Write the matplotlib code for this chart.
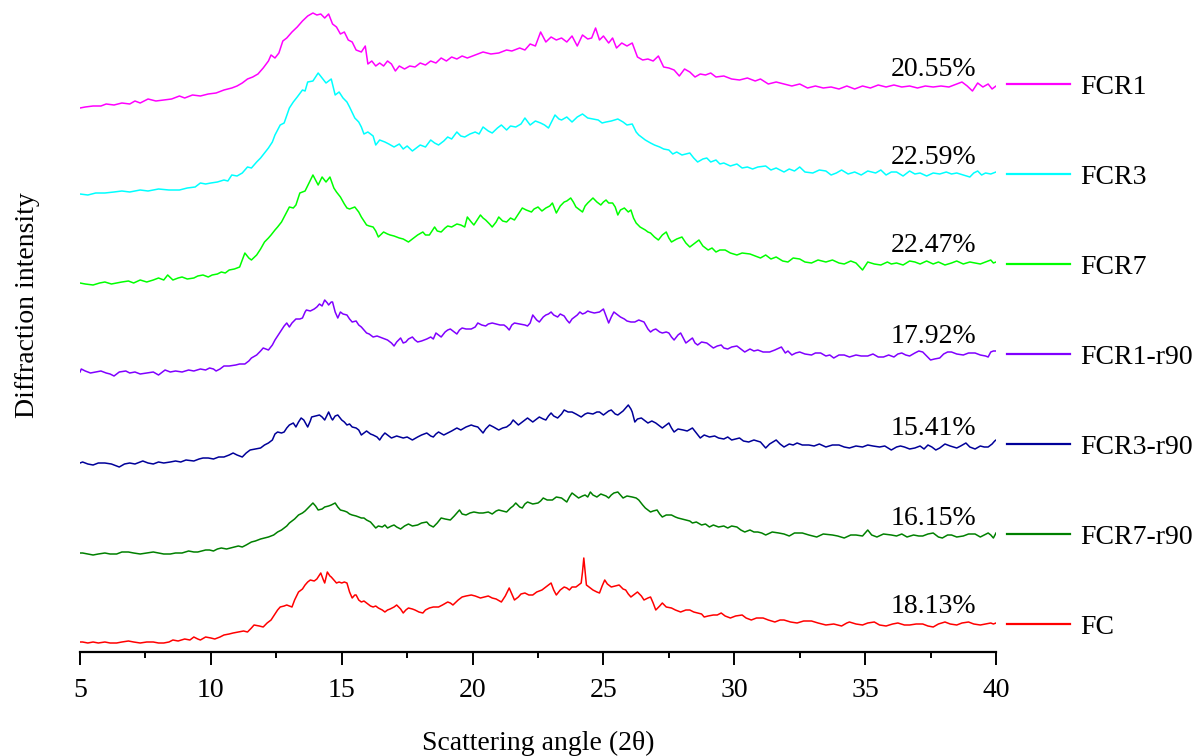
import numpy as np
import matplotlib
matplotlib.use("Agg")
import matplotlib.pyplot as plt

plt.rcParams['font.family'] = ['Liberation Serif', 'DejaVu Serif']

# XRD patterns, (2theta, intensity a.u.), offsets already included
fcr1 = [(5.0, 544), (5.2, 545), (5.5, 546), (5.8, 546), (6.0, 548), (6.3, 547), (6.6, 549), (6.9, 548),
        (7.1, 551), (7.3, 549), (7.6, 553), (7.9, 551), (8.2, 552), (8.5, 553), (8.8, 556), (9.0, 554),
        (9.3, 557), (9.6, 556), (9.9, 558), (10.2, 559), (10.5, 562), (10.8, 564), (11.0, 566), (11.2, 569),
        (11.4, 573), (11.6, 575), (11.8, 578), (12.0, 584), (12.2, 591), (12.3, 597), (12.45, 594), (12.6, 599),
        (12.75, 611), (12.9, 614), (13.1, 620), (13.3, 625), (13.5, 631), (13.7, 636), (13.9, 639), (14.05, 637),
        (14.2, 638), (14.35, 634), (14.5, 638), (14.65, 628), (14.8, 625), (14.95, 618), (15.1, 620), (15.25, 612),
        (15.4, 610), (15.55, 602), (15.75, 600), (15.9, 606), (16.0, 588), (16.15, 591), (16.3, 586), (16.45, 589),
        (16.6, 586), (16.75, 591), (16.9, 588), (17.05, 581), (17.2, 586), (17.4, 583), (17.6, 586), (17.8, 585),
        (18.0, 589), (18.2, 587), (18.4, 591), (18.6, 589), (18.8, 594), (19.0, 591), (19.2, 595), (19.4, 593),
        (19.6, 596), (19.8, 594), (20.1, 597), (20.4, 600), (20.7, 598), (21.0, 599), (21.3, 602), (21.5, 601),
        (21.8, 604), (22.0, 602), (22.2, 608), (22.4, 606), (22.6, 620), (22.8, 610), (23.0, 615), (23.2, 612),
        (23.4, 614), (23.6, 610), (23.8, 616), (24.0, 606), (24.2, 617), (24.4, 613), (24.55, 614), (24.7, 624),
        (24.85, 612), (25.0, 616), (25.2, 609), (25.35, 614), (25.5, 604), (25.7, 609), (25.9, 606), (26.1, 609),
        (26.3, 595), (26.5, 592), (26.7, 593), (26.9, 591), (27.1, 596), (27.3, 585), (27.5, 584), (27.7, 582),
        (27.9, 576), (28.1, 583), (28.3, 580), (28.5, 575), (28.7, 578), (28.9, 577), (29.1, 579), (29.3, 575),
        (29.6, 576), (29.9, 573), (30.2, 572), (30.5, 574), (30.8, 571), (31.0, 573), (31.3, 568), (31.6, 570),
        (31.9, 568), (32.2, 566), (32.5, 568), (32.8, 564), (33.1, 566), (33.4, 564), (33.7, 565), (34.0, 563),
        (34.3, 566), (34.6, 563), (34.9, 566), (35.2, 564), (35.5, 567), (35.8, 565), (36.1, 567), (36.4, 565),
        (36.7, 566), (37.0, 564), (37.3, 566), (37.6, 565), (37.9, 566), (38.2, 565), (38.5, 568), (38.7, 570),
        (38.9, 566), (39.1, 561), (39.3, 569), (39.5, 565), (39.7, 568), (39.85, 563), (40.0, 566)]

fcr3 = [(5.0, 458), (5.3, 457), (5.6, 459), (5.95, 459), (6.3, 460), (6.6, 461), (6.9, 460), (7.3, 462),
        (7.6, 461), (8.0, 463), (8.4, 462), (8.8, 462), (9.1, 464), (9.4, 465), (9.6, 469), (9.8, 468),
        (10.0, 469), (10.25, 470), (10.5, 472), (10.65, 471), (10.8, 477), (11.0, 476), (11.2, 479), (11.4, 485),
        (11.55, 484), (11.75, 490), (11.9, 494), (12.05, 499), (12.2, 504), (12.35, 510), (12.45, 517), (12.65, 527),
        (12.8, 529), (13.0, 544), (13.15, 550), (13.3, 555), (13.5, 562), (13.6, 561), (13.7, 570), (13.9, 571),
        (14.0, 575), (14.1, 579), (14.25, 574), (14.4, 569), (14.6, 573), (14.75, 557), (14.9, 560), (15.05, 554),
        (15.2, 550), (15.3, 545), (15.5, 534), (15.65, 530), (15.75, 525), (15.85, 518), (16.0, 520), (16.2, 516),
        (16.3, 507), (16.45, 512), (16.65, 510), (16.8, 508), (17.0, 505), (17.2, 508), (17.35, 503), (17.5, 506),
        (17.7, 501), (17.85, 504), (18.0, 507), (18.2, 505), (18.4, 512), (18.55, 509), (18.7, 507), (18.9, 511),
        (19.05, 515), (19.2, 513), (19.4, 520), (19.55, 516), (19.7, 515), (19.9, 518), (20.1, 520), (20.25, 518),
        (20.4, 525), (20.6, 521), (20.75, 519), (20.95, 524), (21.1, 527), (21.3, 522), (21.45, 526), (21.65, 525),
        (21.85, 528), (22.0, 534), (22.2, 527), (22.4, 531), (22.6, 529), (22.75, 527), (22.9, 524), (23.15, 537),
        (23.3, 533), (23.4, 532), (23.6, 535), (23.8, 530), (24.0, 535), (24.2, 538), (24.4, 534), (24.6, 533),
        (24.8, 532), (24.95, 529), (25.1, 530), (25.3, 531), (25.55, 533), (25.75, 530), (25.9, 527), (26.1, 528),
        (26.25, 520), (26.35, 517), (26.5, 514), (26.6, 512), (26.8, 509), (26.95, 507), (27.15, 505), (27.3, 503),
        (27.5, 502), (27.65, 498), (27.8, 500), (28.0, 497), (28.3, 499), (28.45, 494), (28.6, 490), (28.8, 493),
        (28.95, 494), (29.1, 490), (29.3, 492), (29.45, 488), (29.6, 489), (29.85, 486), (30.1, 488), (30.3, 484),
        (30.5, 485), (30.7, 483), (30.9, 485), (31.2, 486), (31.4, 482), (31.6, 484), (31.9, 480), (32.1, 483),
        (32.3, 481), (32.5, 485), (32.7, 480), (33.0, 479), (33.25, 482), (33.5, 481), (33.7, 477), (33.9, 479),
        (34.1, 482), (34.35, 478), (34.6, 480), (34.85, 477), (35.1, 481), (35.4, 479), (35.6, 482), (35.8, 477),
        (36.0, 480), (36.2, 480), (36.45, 476), (36.7, 481), (36.9, 478), (37.1, 479), (37.35, 476), (37.6, 479),
        (37.85, 478), (38.1, 480), (38.3, 478), (38.5, 479), (38.75, 477), (39.0, 475), (39.15, 479), (39.3, 481),
        (39.45, 477), (39.6, 479), (39.8, 478), (40.0, 480)]

fcr7 = [(5.0, 369), (5.2, 368), (5.5, 367), (5.75, 369), (5.95, 370), (6.2, 368), (6.4, 369), (6.6, 370),
        (6.85, 371), (7.05, 369), (7.3, 372), (7.55, 370), (7.8, 372), (8.0, 374), (8.2, 372), (8.35, 377),
        (8.55, 372), (8.75, 374), (8.9, 375), (9.1, 373), (9.35, 374), (9.5, 376), (9.7, 377), (9.9, 375),
        (10.05, 377), (10.25, 378), (10.4, 380), (10.55, 379), (10.7, 382), (10.9, 383), (11.1, 385), (11.3, 399),
        (11.45, 394), (11.55, 392), (11.75, 397), (11.9, 403), (12.05, 410), (12.2, 414), (12.3, 417), (12.45, 422),
        (12.55, 425), (12.7, 430), (12.8, 435), (12.9, 440), (13.0, 445), (13.15, 444), (13.25, 447), (13.4, 459),
        (13.5, 460), (13.6, 461), (13.75, 469), (13.9, 477), (14.0, 472), (14.1, 467), (14.25, 475), (14.4, 470),
        (14.55, 475), (14.7, 464), (14.8, 460), (14.95, 455), (15.1, 448), (15.2, 444), (15.3, 443), (15.4, 444),
        (15.5, 445), (15.65, 440), (15.75, 435), (15.95, 427), (16.05, 426), (16.2, 425), (16.3, 421), (16.4, 415),
        (16.6, 420), (16.75, 418), (16.85, 417), (17.0, 416), (17.2, 414), (17.35, 413), (17.55, 410), (17.7, 413),
        (17.9, 417), (18.1, 420), (18.2, 417), (18.35, 417), (18.55, 425), (18.65, 421), (18.8, 420), (18.95, 424),
        (19.05, 426), (19.2, 425), (19.4, 428), (19.55, 427), (19.7, 425), (19.8, 435), (19.95, 430), (20.05, 427),
        (20.2, 433), (20.3, 437), (20.4, 434), (20.5, 432), (20.65, 428), (20.75, 425), (20.9, 430), (21.0, 435),
        (21.15, 431), (21.3, 430), (21.45, 434), (21.6, 432), (21.75, 438), (21.9, 444), (22.05, 442), (22.25, 440),
        (22.35, 443), (22.5, 445), (22.65, 441), (22.8, 444), (22.95, 446), (23.05, 449), (23.2, 439), (23.35, 446),
        (23.5, 450), (23.6, 451), (23.75, 454), (23.85, 450), (23.95, 445), (24.1, 442), (24.2, 440), (24.3, 446),
        (24.4, 449), (24.6, 454), (24.75, 450), (24.9, 447), (25.0, 450), (25.1, 452), (25.2, 449), (25.35, 449),
        (25.45, 445), (25.55, 437), (25.65, 442), (25.8, 444), (25.95, 440), (26.05, 442), (26.15, 434), (26.25, 429),
        (26.4, 425), (26.6, 422), (26.7, 420), (26.8, 419), (26.95, 415), (27.1, 412), (27.25, 417), (27.4, 420),
        (27.5, 414), (27.6, 410), (27.8, 413), (28.0, 415), (28.15, 409), (28.3, 405), (28.5, 409), (28.65, 412),
        (28.8, 406), (29.0, 402), (29.15, 404), (29.3, 400), (29.45, 402), (29.65, 402), (29.85, 399), (30.1, 397),
        (30.3, 399), (30.6, 398), (30.8, 396), (31.0, 394), (31.2, 397), (31.4, 393), (31.6, 395), (31.85, 391),
        (32.05, 390), (32.25, 394), (32.5, 393), (32.7, 390), (32.95, 389), (33.2, 392), (33.5, 390), (33.75, 392),
        (34.0, 389), (34.2, 388), (34.45, 391), (34.65, 389), (34.9, 382), (35.1, 390), (35.35, 388), (35.6, 387),
        (35.85, 390), (36.0, 388), (36.2, 389), (36.45, 387), (36.7, 391), (36.9, 390), (37.1, 388), (37.35, 391),
        (37.6, 388), (37.8, 390), (38.05, 387), (38.3, 389), (38.5, 391), (38.75, 388), (39.0, 390), (39.2, 389),
        (39.4, 388), (39.6, 390), (39.8, 392), (39.9, 389), (40.0, 390)]

fcr1_r90 = [(5.0, 280), (5.05, 283), (5.2, 281), (5.4, 279), (5.6, 280), (5.8, 281), (6.0, 279), (6.15, 278),
            (6.3, 276), (6.5, 280), (6.75, 281), (6.9, 279), (7.1, 280), (7.3, 278), (7.55, 279), (7.8, 280),
            (8.0, 277), (8.15, 280), (8.25, 282), (8.45, 280), (8.65, 281), (8.9, 280), (9.15, 282), (9.35, 281),
            (9.6, 283), (9.8, 282), (9.95, 284), (10.1, 283), (10.2, 281), (10.35, 283), (10.5, 286), (10.7, 286),
            (10.95, 287), (11.1, 288), (11.3, 288), (11.45, 291), (11.55, 294), (11.75, 297), (11.9, 301), (12.0, 304),
            (12.1, 303), (12.2, 302), (12.35, 307), (12.45, 312), (12.55, 316), (12.65, 320), (12.8, 326), (12.9, 329),
            (13.0, 325), (13.1, 329), (13.25, 333), (13.4, 333), (13.5, 334), (13.6, 340), (13.65, 342), (13.8, 341),
            (13.95, 343), (14.05, 345), (14.15, 348), (14.25, 346), (14.35, 352), (14.45, 349), (14.5, 347), (14.6, 350),
            (14.65, 350), (14.75, 340), (14.85, 334), (14.95, 340), (15.05, 338), (15.2, 337), (15.3, 333), (15.4, 330),
            (15.55, 331), (15.65, 327), (15.75, 325), (15.85, 322), (15.95, 319), (16.05, 318), (16.2, 315), (16.35, 316),
            (16.55, 314), (16.65, 313), (16.75, 312), (16.9, 309), (17.0, 306), (17.1, 310), (17.25, 314), (17.35, 309),
            (17.45, 310), (17.55, 313), (17.7, 315), (17.8, 312), (17.9, 310), (18.05, 311), (18.25, 313), (18.4, 315),
            (18.5, 313), (18.6, 319), (18.7, 317), (18.8, 315), (18.95, 320), (19.05, 322), (19.15, 323), (19.3, 320),
            (19.4, 318), (19.5, 322), (19.6, 324), (19.75, 323), (19.95, 323), (20.1, 325), (20.2, 329), (20.35, 327),
            (20.5, 326), (20.6, 328), (20.75, 329), (20.9, 328), (21.05, 327), (21.2, 327), (21.3, 325), (21.4, 322),
            (21.5, 327), (21.6, 329), (21.8, 328), (22.0, 327), (22.1, 326), (22.2, 329), (22.3, 337), (22.45, 332),
            (22.55, 330), (22.7, 335), (22.8, 337), (22.9, 338), (23.0, 340), (23.1, 337), (23.25, 335), (23.35, 338),
            (23.5, 336), (23.6, 332), (23.7, 329), (23.8, 333), (23.9, 335), (24.0, 337), (24.1, 340), (24.2, 338),
            (24.3, 339), (24.4, 341), (24.5, 340), (24.65, 339), (24.85, 340), (25.0, 343), (25.1, 336), (25.2, 329),
            (25.3, 335), (25.4, 340), (25.55, 337), (25.65, 335), (25.8, 333), (25.9, 331), (26.05, 330), (26.2, 330),
            (26.35, 332), (26.55, 330), (26.7, 323), (26.8, 320), (26.9, 322), (27.0, 323), (27.15, 320), (27.25, 319),
            (27.4, 320), (27.5, 319), (27.6, 315), (27.7, 312), (27.85, 317), (27.95, 319), (28.05, 314), (28.15, 309),
            (28.3, 312), (28.4, 314), (28.5, 309), (28.6, 307), (28.75, 310), (28.95, 309), (29.1, 306), (29.2, 304),
            (29.35, 306), (29.5, 307), (29.6, 304), (29.75, 303), (29.9, 305), (30.1, 306), (30.25, 303), (30.4, 300),
            (30.6, 303), (30.75, 301), (30.9, 302), (31.1, 300), (31.35, 300), (31.55, 302), (31.8, 305), (31.95, 299),
            (32.05, 301), (32.2, 297), (32.35, 299), (32.5, 300), (32.7, 298), (32.95, 297), (33.1, 299), (33.3, 299),
            (33.5, 296), (33.65, 297), (33.8, 294), (34.0, 297), (34.2, 297), (34.4, 295), (34.65, 297), (34.85, 296),
            (35.1, 296), (35.3, 298), (35.5, 295), (35.7, 295), (35.9, 297), (36.1, 295), (36.25, 298), (36.4, 299),
            (36.55, 297), (36.7, 296), (36.9, 299), (37.05, 301), (37.2, 300), (37.35, 296), (37.5, 292), (37.65, 293),
            (37.85, 294), (38.0, 298), (38.15, 300), (38.3, 300), (38.5, 298), (38.75, 297), (38.95, 299), (39.2, 299),
            (39.4, 297), (39.6, 296), (39.7, 295), (39.8, 300), (39.9, 301), (40.0, 301)]

fcr3_r90 = [(5.0, 189), (5.1, 190), (5.3, 188), (5.5, 187), (5.7, 189), (5.95, 189), (6.2, 188), (6.5, 185),
            (6.7, 188), (6.9, 189), (7.1, 188), (7.4, 191), (7.6, 189), (7.8, 188), (8.0, 190), (8.2, 189),
            (8.45, 190), (8.65, 191), (8.85, 190), (9.05, 192), (9.35, 191), (9.55, 193), (9.7, 194), (9.9, 194),
            (10.1, 193), (10.3, 195), (10.5, 195), (10.7, 197), (10.85, 199), (11.0, 197), (11.2, 195), (11.35, 199),
            (11.5, 202), (11.7, 203), (11.9, 204), (12.05, 207), (12.2, 209), (12.35, 212), (12.45, 218), (12.55, 220),
            (12.7, 219), (12.8, 220), (12.9, 224), (13.0, 227), (13.15, 229), (13.25, 225), (13.35, 230), (13.45, 234),
            (13.55, 232), (13.7, 225), (13.8, 231), (13.85, 235), (14.0, 236), (14.15, 237), (14.25, 235), (14.35, 232),
            (14.5, 240), (14.6, 234), (14.65, 232), (14.75, 236), (14.85, 237), (15.0, 232), (15.1, 230), (15.2, 227),
            (15.3, 228), (15.4, 225), (15.55, 224), (15.65, 222), (15.75, 217), (15.85, 219), (15.95, 221), (16.1, 218),
            (16.2, 217), (16.35, 215), (16.45, 212), (16.55, 216), (16.65, 219), (16.8, 216), (16.9, 214), (17.1, 216),
            (17.35, 214), (17.5, 215), (17.7, 212), (17.9, 215), (18.05, 217), (18.25, 219), (18.4, 216), (18.5, 215),
            (18.6, 218), (18.7, 220), (18.9, 217), (19.05, 219), (19.2, 221), (19.4, 224), (19.55, 222), (19.75, 225),
            (19.95, 227), (20.05, 226), (20.2, 225), (20.4, 219), (20.5, 223), (20.65, 227), (20.8, 225), (21.0, 222),
            (21.15, 224), (21.3, 225), (21.45, 228), (21.55, 232), (21.75, 227), (21.9, 230), (22.1, 234), (22.2, 232),
            (22.3, 230), (22.45, 233), (22.55, 235), (22.7, 233), (22.8, 232), (22.9, 236), (23.0, 239), (23.1, 236),
            (23.25, 234), (23.4, 238), (23.5, 242), (23.65, 240), (23.8, 240), (23.95, 238), (24.15, 235), (24.3, 238),
            (24.4, 239), (24.6, 238), (24.75, 240), (24.85, 240), (25.0, 237), (25.1, 239), (25.2, 241), (25.3, 242),
            (25.45, 238), (25.55, 237), (25.65, 239), (25.75, 241), (25.85, 244), (25.95, 247), (26.05, 243), (26.1, 240),
            (26.2, 230), (26.3, 233), (26.45, 234), (26.6, 231), (26.7, 229), (26.85, 231), (27.0, 229), (27.1, 227),
            (27.25, 224), (27.4, 227), (27.5, 229), (27.6, 224), (27.7, 220), (27.85, 223), (28.05, 222), (28.2, 221),
            (28.4, 224), (28.55, 219), (28.7, 214), (28.85, 217), (29.05, 215), (29.25, 216), (29.4, 214), (29.6, 213),
            (29.75, 215), (29.9, 212), (30.05, 213), (30.2, 214), (30.35, 211), (30.55, 210), (30.75, 212), (31.0, 210),
            (31.1, 207), (31.2, 204), (31.35, 208), (31.6, 212), (31.75, 208), (31.9, 205), (32.1, 208), (32.25, 207),
            (32.4, 209), (32.6, 207), (32.85, 207), (33.05, 206), (33.25, 208), (33.5, 205), (33.75, 207), (34.0, 207),
            (34.2, 205), (34.4, 204), (34.65, 206), (34.9, 205), (35.1, 207), (35.3, 206), (35.55, 205), (35.75, 206),
            (36.0, 202), (36.2, 205), (36.35, 206), (36.5, 205), (36.7, 203), (36.9, 204), (37.1, 206), (37.25, 203),
            (37.4, 207), (37.55, 205), (37.7, 202), (37.85, 204), (38.05, 208), (38.25, 206), (38.5, 204), (38.65, 206),
            (38.85, 209), (39.0, 205), (39.2, 203), (39.4, 206), (39.55, 205), (39.7, 205), (39.85, 208), (39.95, 211),
            (40.0, 212)]

fcr7_r90 = [(5.0, 99), (5.1, 99), (5.3, 98), (5.5, 97), (5.7, 98), (5.95, 99), (6.15, 98), (6.4, 98),
            (6.6, 100), (6.85, 100), (7.05, 99), (7.3, 98), (7.55, 99), (7.8, 100), (8.0, 99), (8.2, 98),
            (8.45, 98), (8.65, 99), (8.9, 99), (9.15, 101), (9.35, 100), (9.5, 100), (9.8, 102), (9.95, 102),
            (10.1, 101), (10.25, 103), (10.4, 104), (10.6, 103), (10.75, 104), (10.9, 105), (11.05, 106), (11.2, 105),
            (11.35, 107), (11.55, 110), (11.7, 111), (11.9, 113), (12.05, 114), (12.2, 115), (12.4, 117), (12.55, 120),
            (12.7, 122), (12.8, 124), (12.9, 126), (13.0, 129), (13.2, 133), (13.35, 137), (13.5, 139), (13.6, 141),
            (13.75, 145), (13.9, 149), (14.0, 146), (14.1, 142), (14.25, 143), (14.35, 145), (14.5, 146), (14.6, 147),
            (14.75, 149), (14.85, 145), (14.95, 142), (15.1, 141), (15.2, 140), (15.3, 138), (15.4, 137), (15.55, 136),
            (15.65, 135), (15.75, 134), (15.85, 134), (15.95, 132), (16.1, 130), (16.2, 127), (16.3, 124), (16.4, 126),
            (16.55, 125), (16.65, 127), (16.75, 124), (16.9, 126), (17.0, 127), (17.1, 125), (17.25, 123), (17.4, 126),
            (17.55, 128), (17.7, 126), (17.9, 127), (18.05, 129), (18.25, 130), (18.35, 127), (18.5, 125), (18.65, 129),
            (18.8, 134), (18.95, 133), (19.15, 132), (19.3, 136), (19.5, 142), (19.6, 138), (19.75, 137), (19.9, 139),
            (20.05, 140), (20.25, 139), (20.4, 139), (20.6, 140), (20.75, 138), (20.9, 141), (21.0, 142), (21.15, 141),
            (21.3, 140), (21.45, 144), (21.55, 146), (21.65, 149), (21.8, 145), (21.9, 144), (22.0, 148), (22.1, 150),
            (22.3, 148), (22.5, 149), (22.6, 151), (22.7, 154), (22.85, 152), (23.05, 152), (23.2, 155), (23.4, 154),
            (23.5, 152), (23.6, 150), (23.7, 155), (23.8, 159), (23.95, 156), (24.05, 154), (24.2, 156), (24.3, 157),
            (24.4, 155), (24.5, 160), (24.6, 157), (24.75, 155), (24.9, 158), (25.0, 157), (25.1, 156), (25.2, 154),
            (25.3, 157), (25.4, 159), (25.55, 160), (25.65, 157), (25.75, 154), (25.9, 156), (26.1, 155), (26.25, 154),
            (26.35, 152), (26.5, 147), (26.6, 144), (26.7, 142), (26.8, 140), (26.9, 141), (27.05, 142), (27.15, 138),
            (27.25, 135), (27.4, 137), (27.6, 137), (27.75, 135), (27.85, 134), (28.0, 133), (28.15, 132), (28.3, 131),
            (28.4, 129), (28.55, 130), (28.75, 127), (28.9, 128), (29.05, 125), (29.2, 127), (29.4, 125), (29.6, 126),
            (29.75, 124), (29.9, 126), (30.1, 125), (30.25, 122), (30.4, 120), (30.6, 122), (30.75, 120), (30.9, 120),
            (31.05, 119), (31.2, 117), (31.45, 120), (31.7, 119), (31.9, 118), (32.1, 116), (32.3, 119), (32.6, 119),
            (32.85, 117), (33.15, 115), (33.4, 118), (33.75, 117), (33.95, 116), (34.2, 114), (34.45, 117), (34.65, 117),
            (34.9, 116), (35.1, 122), (35.25, 117), (35.45, 115), (35.7, 118), (36.0, 117), (36.2, 116), (36.4, 118),
            (36.6, 115), (36.85, 117), (37.05, 116), (37.2, 116), (37.4, 118), (37.6, 119), (37.8, 115), (37.95, 114),
            (38.15, 117), (38.3, 117), (38.5, 115), (38.75, 116), (38.95, 118), (39.2, 118), (39.4, 115), (39.55, 117),
            (39.7, 119), (39.8, 117), (39.9, 114), (40.0, 119)]

fc = [(5.0, 10), (5.1, 10), (5.3, 9), (5.5, 10), (5.7, 9), (5.95, 10), (6.15, 9), (6.4, 9),
      (6.6, 10), (6.85, 11), (7.05, 10), (7.3, 9), (7.55, 10), (7.8, 10), (8.0, 9), (8.2, 9),
      (8.4, 10), (8.55, 12), (8.75, 11), (9.0, 13), (9.2, 12), (9.35, 15), (9.5, 13), (9.6, 12),
      (9.8, 15), (10.0, 14), (10.15, 13), (10.35, 15), (10.5, 17), (10.7, 18), (10.85, 19), (11.05, 20),
      (11.25, 21), (11.4, 20), (11.55, 24), (11.65, 27), (11.85, 26), (12.0, 25), (12.15, 29), (12.3, 32),
      (12.45, 38), (12.55, 42), (12.65, 45), (12.8, 46), (12.9, 47), (13.0, 46), (13.1, 45), (13.2, 52),
      (13.35, 60), (13.5, 63), (13.6, 67), (13.7, 70), (13.8, 72), (13.95, 71), (14.05, 73), (14.2, 79),
      (14.3, 72), (14.35, 69), (14.45, 80), (14.55, 76), (14.6, 75), (14.7, 72), (14.8, 69), (14.9, 70),
      (15.0, 69), (15.1, 70), (15.2, 69), (15.3, 60), (15.4, 54), (15.5, 57), (15.55, 57), (15.65, 52),
      (15.75, 50), (15.85, 51), (15.95, 49), (16.1, 46), (16.2, 45), (16.3, 46), (16.4, 44), (16.55, 42),
      (16.65, 40), (16.75, 42), (16.85, 43), (17.0, 45), (17.1, 47), (17.25, 43), (17.35, 39), (17.45, 42),
      (17.55, 44), (17.7, 43), (17.8, 42), (17.95, 40), (18.1, 39), (18.2, 42), (18.35, 44), (18.5, 45),
      (18.7, 45), (18.85, 47), (19.05, 50), (19.15, 49), (19.25, 47), (19.45, 52), (19.6, 55), (19.75, 56),
      (19.95, 57), (20.1, 56), (20.3, 54), (20.45, 55), (20.6, 56), (20.75, 54), (20.9, 53), (21.1, 50),
      (21.25, 56), (21.4, 64), (21.5, 58), (21.6, 52), (21.75, 55), (21.85, 58), (22.0, 59), (22.15, 57),
      (22.3, 57), (22.45, 60), (22.65, 62), (22.85, 66), (23.0, 69), (23.1, 62), (23.2, 57), (23.35, 62),
      (23.5, 65), (23.6, 64), (23.7, 62), (23.8, 65), (23.95, 65), (24.05, 67), (24.15, 69), (24.2, 80),
      (24.25, 94), (24.3, 80), (24.35, 67), (24.5, 64), (24.6, 62), (24.75, 60), (24.85, 59), (24.95, 66),
      (25.05, 72), (25.15, 68), (25.3, 65), (25.45, 66), (25.6, 67), (25.75, 63), (25.85, 62), (25.95, 58),
      (26.05, 55), (26.2, 58), (26.3, 60), (26.45, 56), (26.55, 52), (26.7, 54), (26.8, 55), (26.9, 49),
      (27.0, 42), (27.15, 46), (27.25, 49), (27.4, 45), (27.6, 44), (27.75, 42), (27.95, 40), (28.15, 42),
      (28.3, 42), (28.45, 40), (28.6, 39), (28.75, 38), (28.85, 35), (29.0, 36), (29.2, 37), (29.35, 37),
      (29.5, 39), (29.65, 36), (29.85, 34), (30.05, 36), (30.3, 37), (30.45, 34), (30.65, 32), (30.85, 34),
      (31.1, 34), (31.3, 32), (31.55, 30), (31.75, 32), (31.9, 32), (32.15, 30), (32.4, 29), (32.65, 31),
      (32.95, 31), (33.2, 29), (33.5, 27), (33.8, 28), (34.1, 26), (34.3, 29), (34.4, 30), (34.65, 28),
      (34.9, 27), (35.1, 29), (35.35, 30), (35.55, 27), (35.8, 26), (36.05, 28), (36.25, 29), (36.5, 27),
      (36.7, 27), (36.95, 28), (37.2, 28), (37.4, 26), (37.6, 25), (37.8, 28), (38.05, 30), (38.25, 28),
      (38.5, 27), (38.7, 29), (38.95, 30), (39.15, 28), (39.4, 27), (39.6, 28), (39.8, 29), (39.9, 28),
      (40.0, 29)]

samples = ["FCR1", "FCR3", "FCR7", "FCR1-r90", "FCR3-r90", "FCR7-r90", "FC"]
crystallinity = ["20.55%", "22.59%", "22.47%", "17.92%", "15.41%", "16.15%", "18.13%"]
colors = ["#ff00ff", "#00ffff", "#00ff00", "#8000ff", "#000099", "#008000", "#ff0000"]
patterns = [fcr1, fcr3, fcr7, fcr1_r90, fcr3_r90, fcr7_r90, fc]

fig = plt.figure(figsize=(12.03, 7.56), dpi=100)
ax = fig.add_axes([80 / 1203, 104 / 756, 916 / 1203, 652 / 756])

for pts, name, col, pct in zip(patterns, samples, colors, crystallinity):
    tt, inten = np.array(pts).T
    ax.plot(tt, inten, color=col, lw=1.1, label=name)
    # crystallinity index written just above the tail of each pattern
    ax.annotate(pct, xy=(37.6, inten[-8:].mean()), xytext=(0, 12),
                textcoords="offset points", ha="center", va="center", fontsize=20)

ax.set_xlim(5, 40)
ax.set_ylim(0, 652)
ax.set_xticks(np.arange(5, 41, 5))
ax.set_xticks(np.arange(7.5, 40, 5), minor=True)
ax.set_yticks([])
for side in ["left", "right", "top"]:
    ax.spines[side].set_visible(False)
ax.spines["bottom"].set_linewidth(1.6)
ax.tick_params(axis="x", which="major", direction="out", length=9.5, width=1.4,
               labelsize=20, pad=9)
ax.tick_params(axis="x", which="minor", direction="out", length=4.5, width=1.4)

ax.set_xlabel("Scattering angle (2θ)", fontsize=20)
ax.xaxis.set_label_coords(0.5, -0.14)
ax.xaxis.label.set_va("center")
ax.set_ylabel("Diffraction intensity", fontsize=20)
ax.yaxis.set_label_coords(-0.057, 0.532)
ax.yaxis.label.set_va("center")

leg = ax.legend(loc="upper left", bbox_to_anchor=(1007 / 1203, 1 - 74.6 / 756),
                bbox_transform=fig.transFigure, frameon=False, fontsize=20,
                handlelength=2.27, handletextpad=0.36, labelspacing=2.324,
                borderpad=0, borderaxespad=0)
for line in leg.get_lines():
    line.set_linewidth(1.6)

fig.savefig("out.png", dpi=100)
